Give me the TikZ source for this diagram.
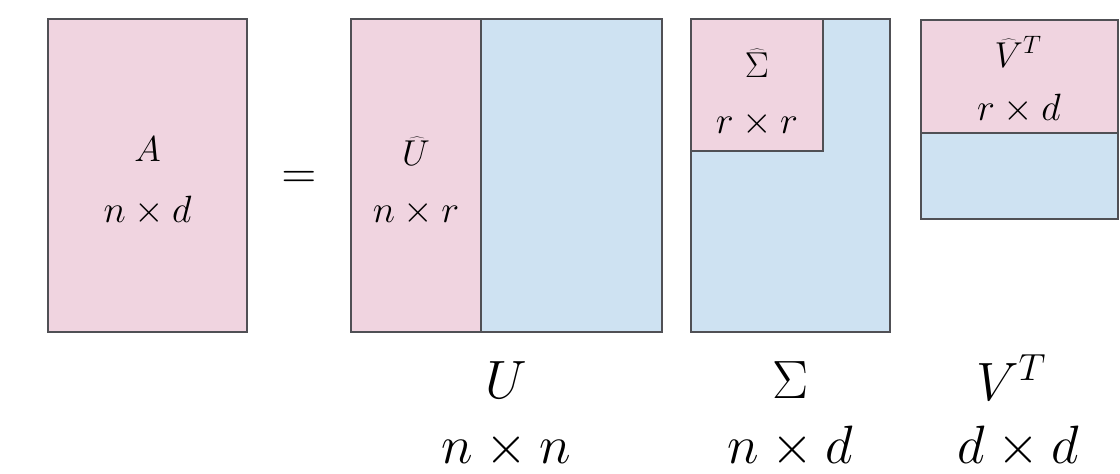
\documentclass[tikz,border=0pt]{standalone}
\usepackage{fix-cm}
\definecolor{pinkc}{RGB}{240,212,224}
\definecolor{bluec}{RGB}{206,226,242}
\definecolor{edgec}{RGB}{80,80,85}
\begin{document}
\begin{tikzpicture}[x=1pt,y=-1pt,
 frame/.style={draw=edgec,line width=1.1pt},
 sym/.style={anchor=base,inner sep=0pt,font=\fontsize{36}{40}\selectfont},
 dimlab/.style={anchor=base,inner sep=0pt,font=\fontsize{38}{44}\selectfont},
 biglab/.style={anchor=base,inner sep=0pt,font=\fontsize{54}{60}\selectfont}]
\useasboundingbox[fill=white] (0,0) rectangle (1120,474);
% A
\fill[pinkc] (48,19) rectangle (247,332);
\draw[frame] (48,19) rectangle (247,332);
\node[sym] (Alab) at (147.5,161) {$A$};
\node[dimlab] (Adim) at (147.5,222) {$n\times d$};
% equals
\node[anchor=base,inner sep=0pt,font=\fontsize{48}{52}\selectfont] (eq) at (299,188) {$=$};
% U
\fill[pinkc] (351,19) rectangle (481,332);
\fill[bluec] (481,19) rectangle (662,332);
\draw[frame] (351,19) rectangle (662,332);
\draw[frame] (481,19) -- (481,332);
\node[sym] (Uhat) at (416,165) {$\widehat{U}$};
\node[dimlab] (Udim) at (416,222) {$n\times r$};
% Sigma
\fill[bluec] (691,19) rectangle (890,332);
\fill[pinkc] (691,19) rectangle (823,151);
\draw[frame] (691,19) rectangle (890,332);
\draw[frame] (691,19) rectangle (823,151);
\node[sym] (Shat) at (757,77) {$\widehat{\Sigma}$};
\node[dimlab] (Sdim) at (757,133) {$r\times r$};
% V^T
\fill[pinkc] (921,20) rectangle (1118,133);
\fill[bluec] (921,133) rectangle (1118,219);
\draw[frame] (921,20) rectangle (1118,219);
\draw[frame] (921,133) -- (1118,133);
\node[sym] (Vhat) at (1018,67) {$\widehat{V}^T$};
\node[dimlab] (Vdim) at (1019,120) {$r\times d$};
% bottom labels
\node[biglab] (U) at (506,398) {$U$};
\node[biglab] (Un) at (506,463) {$n\times n$};
\node[biglab] (S) at (791,398) {$\Sigma$};
\node[biglab] (Sn) at (790,463) {$n\times d$};
\node[biglab] (V) at (1011,400) {$V^T$};
\node[biglab] (Vn) at (1018,463) {$d\times d$};
\end{tikzpicture}
\end{document}
